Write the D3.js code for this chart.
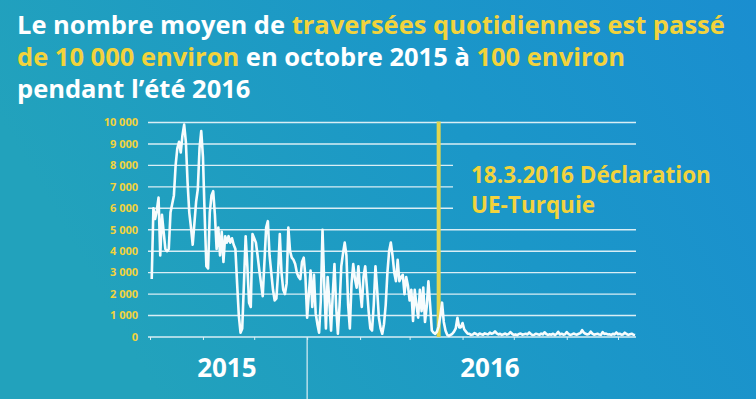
<!DOCTYPE html>
<html>
<head>
<meta charset="utf-8">
<script src="https://cdn.jsdelivr.net/npm/d3@7"></script>
<style>
body { margin: 0; background: #1b96c6; }
svg { display: block; }
text { font-family: "Open Sans", sans-serif; font-weight: 700; }
</style>
</head>
<body>
<svg id="chart" width="756" height="399"></svg>
<script>
// daily average crossings, one value per day from startDate
var startDate = "2015-10-02";
var crossings = [
	2700, 6000, 5500, 5900, 6500, 3800, 5700, 4900, 4100, 4000,
	4100, 5800, 6200, 6600, 8000, 8800, 9100, 8600, 9400, 9900,
	9100, 7200, 5800, 5100, 4300, 5300, 6300, 6900, 8800, 9600,
	8400, 5700, 3300, 3200, 5800, 6600, 6800, 5700, 4100, 5100,
	3800, 4900, 3500, 4700, 4400, 4700, 4400, 4600, 4300, 4100,
	2500, 1000, 200, 400, 2500, 4700, 3300, 1600, 1400, 4800,
	4600, 4400, 3800, 3100, 2500, 1900, 3500, 5100, 5400, 3800,
	3000, 2200, 1700, 1800, 3000, 4800, 3000, 2200, 2000, 2500,
	5100, 4000, 3700, 3600, 3400, 3000, 2800, 2700, 3500, 3700,
	2800, 900, 2000, 3100, 1400, 2900, 1100, 600, 200, 1700,
	5000, 2500, 400, 2800, 1700, 300, 2000, 3400, 1400, 150,
	1500, 3300, 3900, 4400, 3800, 1500, 400, 2500, 3400, 2700,
	2300, 3300, 2200, 1400, 2800, 3300, 2300, 1200, 400, 300,
	1500, 3300, 2200, 900, 400, 150, 600, 1500, 3000, 4000,
	4400, 3800, 3000, 2600, 3600, 2600, 2800, 2900, 2000, 2800,
	2400, 1700, 2200, 750, 2200, 1500, 900, 2200, 1200, 2300,
	700, 1400, 2600, 1500, 300, 200, 150, 250, 500, 1000,
	1600, 700, 300, 100, 50, 100, 150, 250, 400, 900,
	450, 450, 650, 350, 250, 150,
	150, 100, 120, 180, 140, 90, 160, 130, 110, 170,
	140, 120, 200, 150, 180, 260, 170, 120, 150, 100,
	130, 160, 110, 140, 230, 150, 100, 120, 90, 140,
	160, 110, 130, 150, 120, 210, 140, 90, 110, 150,
	130, 100, 160, 120, 220, 140, 100, 130, 110, 150,
	90, 140, 240, 120, 150, 110, 130, 230, 140, 100,
	120, 160, 130, 110, 150, 180, 320, 200, 150, 120,
	140, 250, 160, 110, 130, 150, 120, 100, 230, 140,
	160, 120, 130, 100, 150, 120, 210, 130, 150, 110,
	120, 200, 140, 100, 130, 150, 110, 90
];

var yTicks = [0, 1000, 2000, 3000, 4000, 5000, 6000, 7000, 8000, 9000, 10000];
var shortGrid = [6000, 7000, 8000];   // these stop before the annotation
var years = ["2015", "2016"];
var yearDates = ["2015-11-15", "2016-04-17"];
var yearBreak = "2016-01-01";
var declarationDate = "2016-03-18";
var declarationText = ["18.3.2016 Déclaration", "UE-Turquie"];

var titleLines = [
	[["Le nombre moyen de ", false], ["traversées quotidiennes est passé", true]],
	[["de 10 000 environ", true], [" en octobre 2015 à ", false], ["100 environ", true]],
	[["pendant l’été 2016", false]]
];

var yellow = "#f2d33c",
	white = "#ffffff",
	gridColor = "#d9eef5";

var parseDate = d3.timeParse("%Y-%m-%d");
var frLocale = d3.formatLocale({decimal: ",", thousands: " ", grouping: [3], currency: ["", " €"]});
var formatNum = frLocale.format(",d");

var svg = d3.select("#chart");

// background gradient
var defs = svg.append("defs");
var grad = defs.append("linearGradient")
	.attr("id", "bg")
	.attr("x1", "0%").attr("y1", "30%")
	.attr("x2", "100%").attr("y2", "0%");
grad.append("stop").attr("offset", "0%").attr("stop-color", "#22a2bc");
grad.append("stop").attr("offset", "55%").attr("stop-color", "#1b97c8");
grad.append("stop").attr("offset", "100%").attr("stop-color", "#1a8ed0");
svg.append("rect").attr("width", 756).attr("height", 399).attr("fill", "url(#bg)");

var start = parseDate(startDate);
var data = crossings.map(function(v, i) {
	return {date: d3.timeDay.offset(start, i), value: v};
});

var x = d3.scaleTime()
	.domain([parseDate("2015-10-01"), parseDate("2016-07-01")])
	.range([150, 618]);

var y = d3.scaleLinear()
	.domain([0, 10000])
	.range([337, 122.5]);

var gridLeft = 148,
	gridRight = 636,
	shortRight = 453;

// grid
svg.append("g")
	.selectAll("line")
	.data(yTicks.filter(function(d) { return d > 0; }))
	.enter().append("line")
	.attr("x1", gridLeft)
	.attr("x2", function(d) { return shortGrid.indexOf(d) >= 0 ? shortRight : gridRight; })
	.attr("y1", function(d) { return y(d); })
	.attr("y2", function(d) { return y(d); })
	.attr("stroke", gridColor)
	.attr("stroke-width", 1.4);

// y labels
svg.append("g")
	.selectAll("text")
	.data(yTicks)
	.enter().append("text")
	.attr("x", 138)
	.attr("y", function(d) { return y(d) + 3.8; })
	.attr("text-anchor", "end")
	.attr("fill", yellow)
	.style("font-size", "11px")
	.text(function(d) { return formatNum(d); });

// x axis with month ticks
var xAxis = d3.axisBottom(x)
	.ticks(d3.timeMonth.every(1))
	.tickSize(3)
	.tickFormat("");

var gx = svg.append("g")
	.attr("transform", "translate(0," + y(0) + ")")
	.call(xAxis);
gx.select(".domain").remove();
gx.selectAll(".tick line").attr("stroke", gridColor).attr("stroke-width", 1);
gx.append("line")
	.attr("x1", gridLeft).attr("x2", gridRight)
	.attr("stroke", gridColor).attr("stroke-width", 1.4);

// year divider
svg.append("line")
	.attr("x1", x(parseDate(yearBreak))).attr("x2", x(parseDate(yearBreak)))
	.attr("y1", y(0)).attr("y2", 399)
	.attr("stroke", gridColor).attr("stroke-width", 1.2);

svg.append("g")
	.selectAll("text")
	.data(years)
	.enter().append("text")
	.attr("x", function(d, i) { return x(parseDate(yearDates[i])); })
	.attr("y", 377)
	.attr("text-anchor", "middle")
	.attr("fill", white)
	.style("font-size", "26px")
	.text(function(d) { return d; });

// declaration marker
var xDecl = x(parseDate(declarationDate));
svg.append("line")
	.attr("x1", xDecl).attr("x2", xDecl)
	.attr("y1", y(10000) - 1).attr("y2", y(0))
	.attr("stroke", "#e3d54e")
	.attr("stroke-width", 4);

svg.append("g")
	.selectAll("text")
	.data(declarationText)
	.enter().append("text")
	.attr("x", 471)
	.attr("y", function(d, i) { return 183 + i * 30; })
	.attr("fill", yellow)
	.style("font-size", "22.5px")
	.text(function(d) { return d; });

// the series
var line = d3.line()
	.x(function(d) { return x(d.date); })
	.y(function(d) { return y(d.value); });

svg.append("path")
	.datum(data)
	.attr("d", line)
	.attr("fill", "none")
	.attr("stroke", "#f7fcfd")
	.attr("stroke-width", 2.6)
	.attr("stroke-linejoin", "round");

// title, one text per line
titleLines.forEach(function(parts, i) {
	var t = svg.append("text")
		.attr("x", 17)
		.attr("y", 34 + i * 32)
		.style("font-size", "25.5px");
	parts.forEach(function(p) {
		t.append("tspan")
			.attr("fill", p[1] ? yellow : white)
			.text(p[0]);
	});
});
</script>
</body>
</html>
